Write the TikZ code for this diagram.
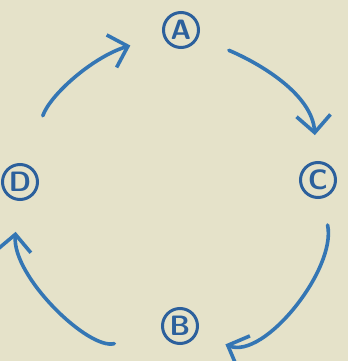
\documentclass[tikz,border=0pt]{standalone}
\usepackage{tikz}
\usetikzlibrary{arrows.meta, calc}
\definecolor{paper}{RGB}{229,226,201}
\definecolor{ink}{RGB}{44,96,156}
\definecolor{pen}{RGB}{52,118,180}
\tikzset{
  letter/.style={circle, draw=ink, line width=3pt, minimum size=35pt, inner sep=0pt,
    text=ink, font=\sffamily\bfseries\fontsize{28}{28}\selectfont},
  arr/.style={pen, line width=3.6pt, line cap=round,
    -{Straight Barb[length=17pt, width=34pt, line width=3.6pt]}}
}
\begin{document}
\begin{tikzpicture}[x=1pt, y=1pt]
  \fill[paper] (0,0) rectangle (348,361);
  \useasboundingbox (0,0) rectangle (348,361);
  \node[letter] (A) at (181,331) {A};
  \node[letter] (C) at (318,181) {C};
  \node[letter] (B) at (180,35) {B};
  \node[letter] (D) at (20,179) {D};
  \draw[arr, shorten <=33pt, shorten >=26pt] (A) to[out=-23, in=94] (C);
  \draw[arr, shorten <=27pt, shorten >=30pt] (C) to[out=-78, in=-22] (B);
  \draw[arr, shorten <=49pt, shorten >=31pt] (B) to[out=195, in=265] (D);
  \draw[arr, shorten <=51pt, shorten >=34pt] (D) to[out=71, in=197] (A);
\end{tikzpicture}
\end{document}
